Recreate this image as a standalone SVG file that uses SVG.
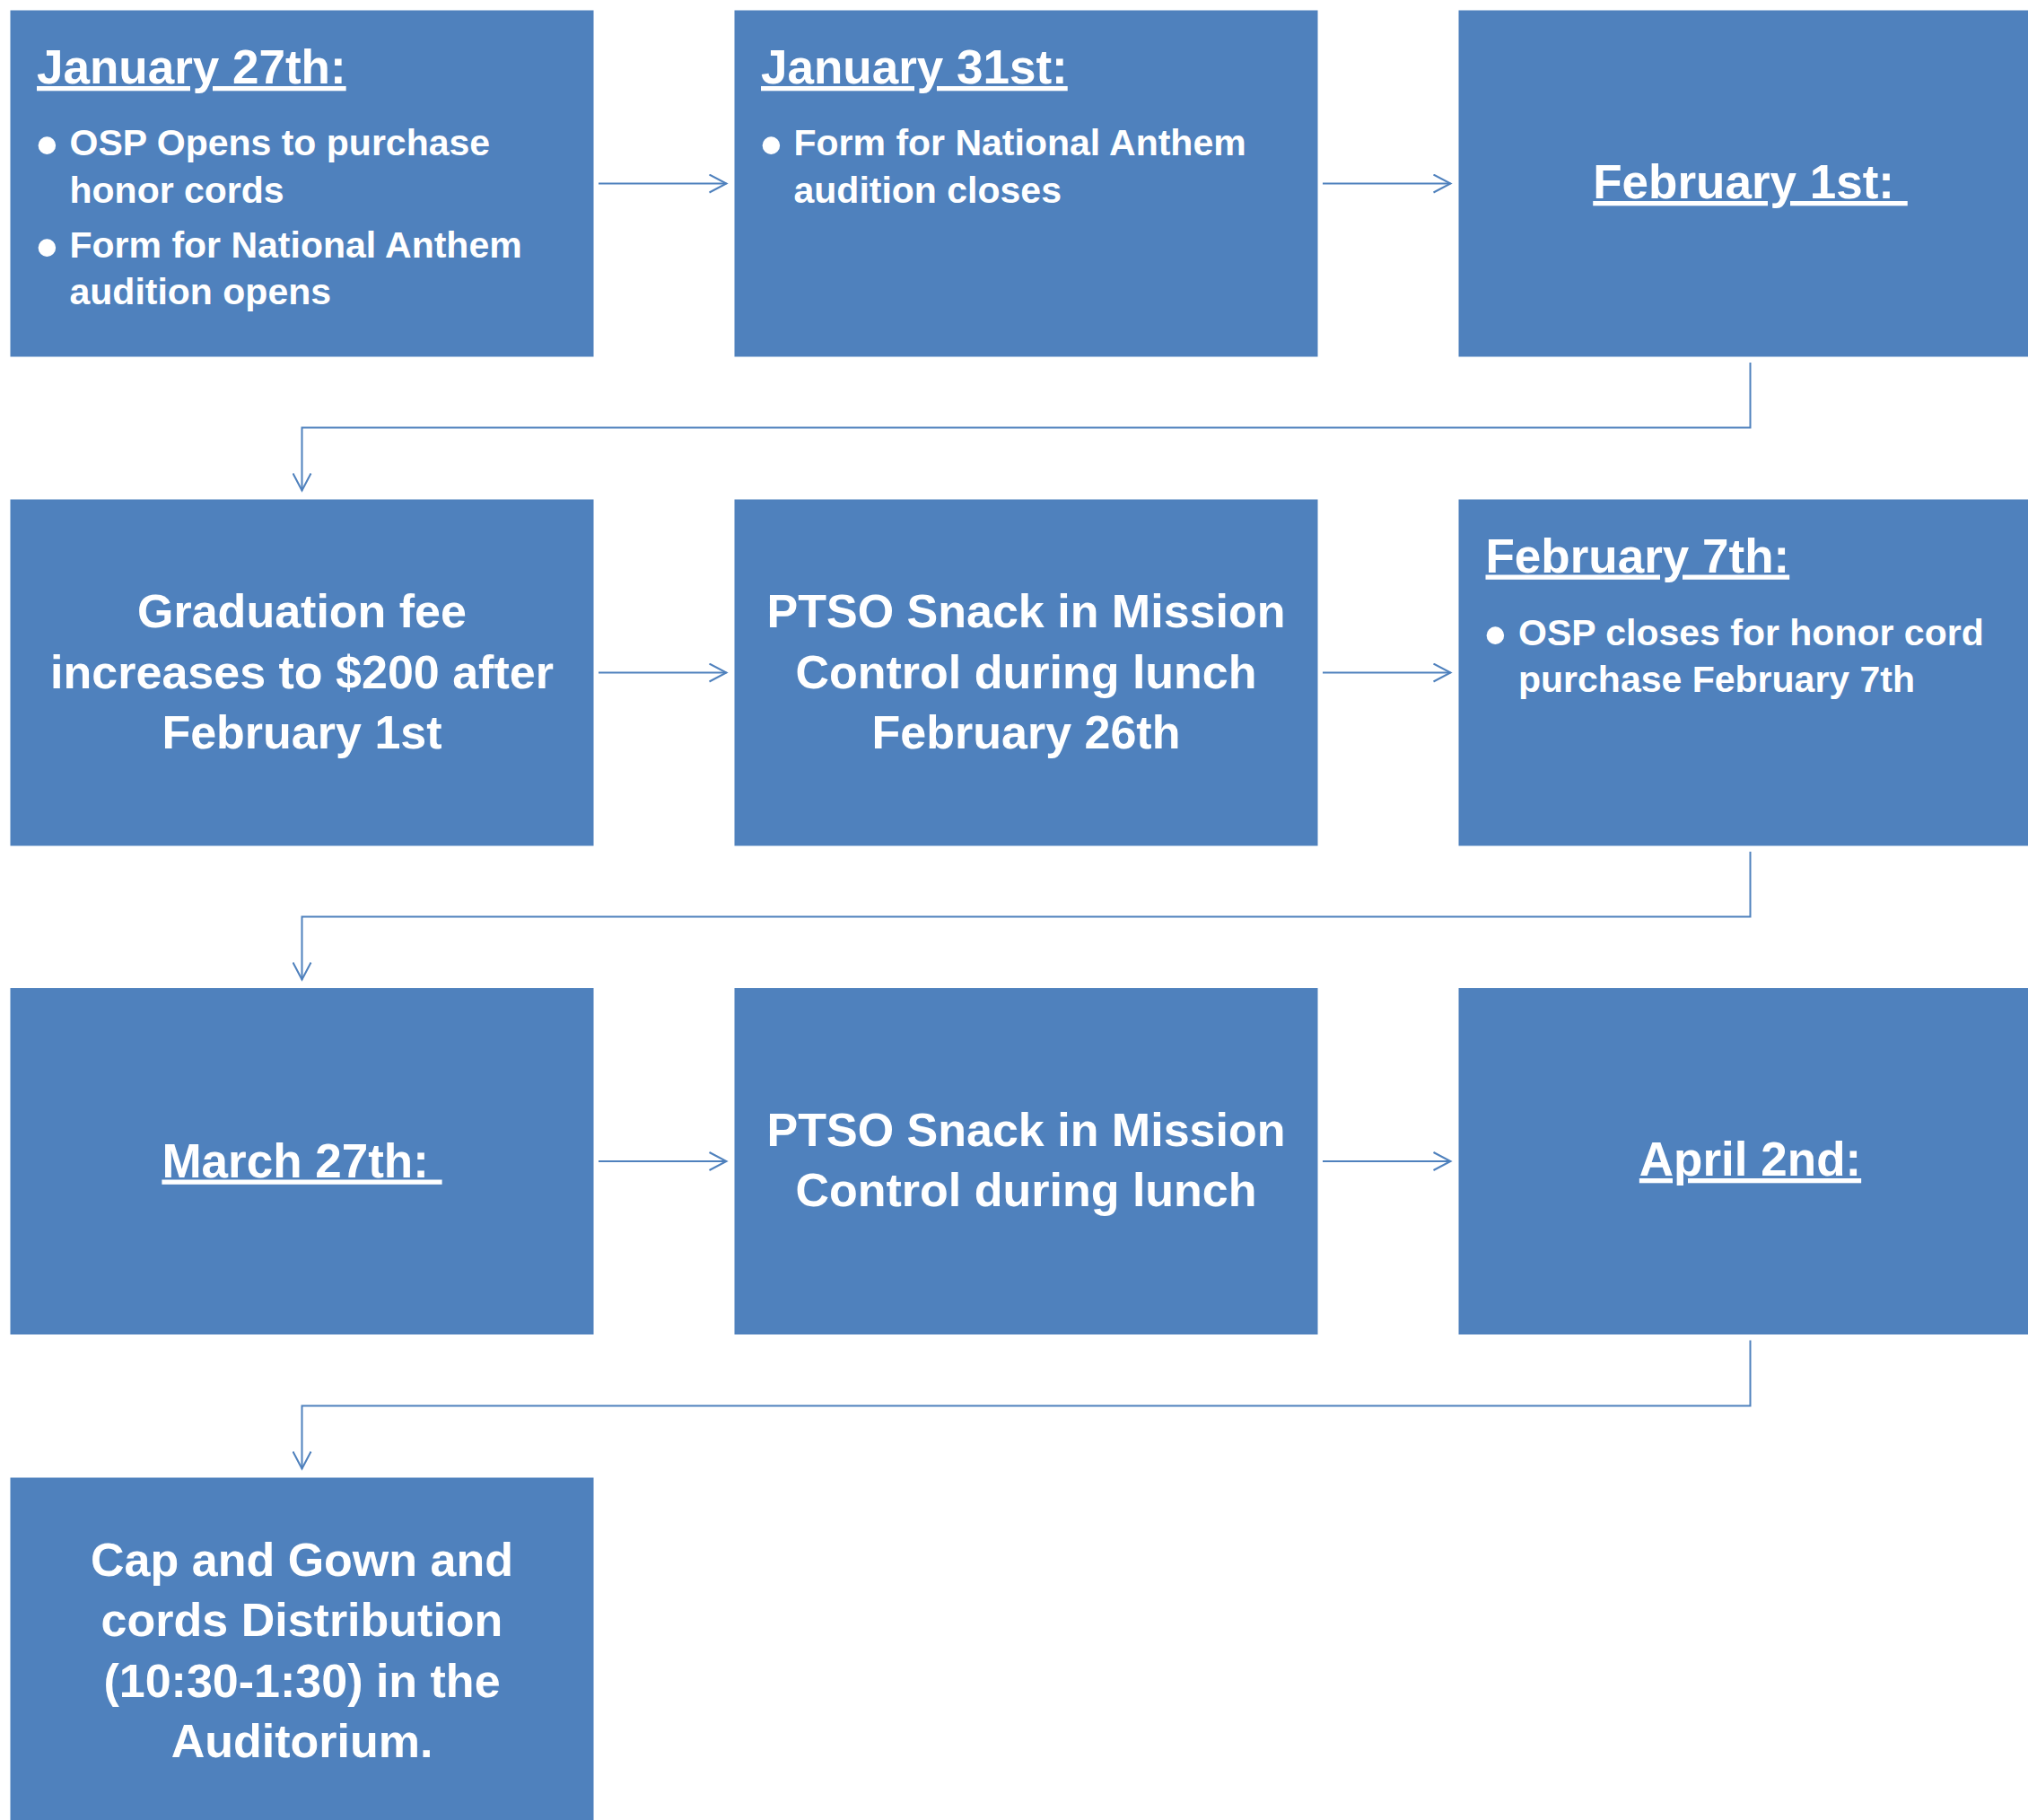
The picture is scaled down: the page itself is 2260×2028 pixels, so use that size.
<svg xmlns="http://www.w3.org/2000/svg" width="2260" height="2028" viewBox="0 0 2260 2028">
<style>
.box{fill:#4F81BD;}
.t{font-family:"Liberation Sans",Arial,sans-serif;font-weight:bold;fill:#FFFFFF;}
.title{font-size:53px;text-decoration:underline;}
.bul{font-size:41px;}
.dot{font-size:68px;text-anchor:middle;}
.ctr{font-size:52px;text-anchor:middle;}
.title.ctr{font-size:53px;}
.conn{fill:none;stroke:#4F81BD;stroke-width:2;}
</style>
<defs>
<marker id="arr" viewBox="0 0 22 22" refX="20" refY="11" markerWidth="22" markerHeight="22" markerUnits="userSpaceOnUse" orient="auto">
<path d="M1,1 L20,11 L1,21" fill="none" stroke="#4F81BD" stroke-width="2"/>
</marker>
</defs>
<rect width="2260" height="2028" fill="#FFFFFF"/>

<g id="connectors">
<path class="conn" d="M667,204.5 H809.5" marker-end="url(#arr)"/>
<path class="conn" d="M1474,204.5 H1616.5" marker-end="url(#arr)"/>
<path class="conn" d="M1950.5,404 V476.5 H336.5 V546.5" marker-end="url(#arr)"/>
<path class="conn" d="M667,749.5 H809.5" marker-end="url(#arr)"/>
<path class="conn" d="M1474,749.5 H1616.5" marker-end="url(#arr)"/>
<path class="conn" d="M1950.5,949 V1021.5 H336.5 V1091.5" marker-end="url(#arr)"/>
<path class="conn" d="M667,1294 H809.5" marker-end="url(#arr)"/>
<path class="conn" d="M1474,1294 H1616.5" marker-end="url(#arr)"/>
<path class="conn" d="M1950.5,1493.5 V1566.5 H336.5 V1636.5" marker-end="url(#arr)"/>
</g>

<g id="node-jan27">
<rect class="box" x="11.5" y="11.5" width="650" height="386"/>
<text class="t title" x="41" y="93">January 27th:</text>
<text class="t dot" x="52.5" y="185">•</text>
<text class="t bul" x="77.5" y="173">OSP Opens to purchase</text>
<text class="t bul" x="77.5" y="225.5">honor cords</text>
<text class="t dot" x="52.5" y="299">•</text>
<text class="t bul" x="77.5" y="287">Form for National Anthem</text>
<text class="t bul" x="77.5" y="339">audition opens</text>
</g>

<g id="node-jan31">
<rect class="box" x="818.5" y="11.5" width="650" height="386"/>
<text class="t title" x="848" y="93">January 31st:</text>
<text class="t dot" x="859.5" y="185">•</text>
<text class="t bul" x="884.5" y="173">Form for National Anthem</text>
<text class="t bul" x="884.5" y="225.5">audition closes</text>
</g>

<g id="node-feb1">
<rect class="box" x="1625.5" y="11.5" width="650" height="386"/>
<text class="t title ctr" x="1950.5" y="221">February 1st:&#160;</text>
</g>

<g id="node-gradfee">
<rect class="box" x="11.5" y="556.5" width="650" height="386"/>
<text class="t ctr" x="336.5" y="699.3">Graduation fee</text>
<text class="t ctr" x="336.5" y="766.7">increases to $200 after</text>
<text class="t ctr" x="336.5" y="834">February 1st</text>
</g>

<g id="node-ptso1">
<rect class="box" x="818.5" y="556.5" width="650" height="386"/>
<text class="t ctr" x="1143.5" y="699.3">PTSO Snack in Mission</text>
<text class="t ctr" x="1143.5" y="766.7">Control during lunch</text>
<text class="t ctr" x="1143.5" y="834">February 26th</text>
</g>

<g id="node-feb7">
<rect class="box" x="1625.5" y="556.5" width="650" height="386"/>
<text class="t title" x="1655.5" y="637.5">February 7th:</text>
<text class="t dot" x="1666.5" y="731">•</text>
<text class="t bul" x="1692" y="719">OSP closes for honor cord</text>
<text class="t bul" x="1692" y="771">purchase February 7th</text>
</g>

<g id="node-mar27">
<rect class="box" x="11.5" y="1101" width="650" height="386"/>
<text class="t title ctr" x="336.5" y="1311.5">March 27th:&#160;</text>
</g>

<g id="node-ptso2">
<rect class="box" x="818.5" y="1101" width="650" height="386"/>
<text class="t ctr" x="1143.5" y="1276.7">PTSO Snack in Mission</text>
<text class="t ctr" x="1143.5" y="1344.3">Control during lunch</text>
</g>

<g id="node-apr2">
<rect class="box" x="1625.5" y="1101" width="650" height="386"/>
<text class="t title ctr" x="1950.5" y="1310">April 2nd:</text>
</g>

<g id="node-capgown">
<rect class="box" x="11.5" y="1646.5" width="650" height="386"/>
<text class="t ctr" x="336.5" y="1756">Cap and Gown and</text>
<text class="t ctr" x="336.5" y="1823.4">cords Distribution</text>
<text class="t ctr" x="336.5" y="1890.8">(10:30-1:30) in the</text>
<text class="t ctr" x="336.5" y="1958.2">Auditorium.</text>
</g>
</svg>
